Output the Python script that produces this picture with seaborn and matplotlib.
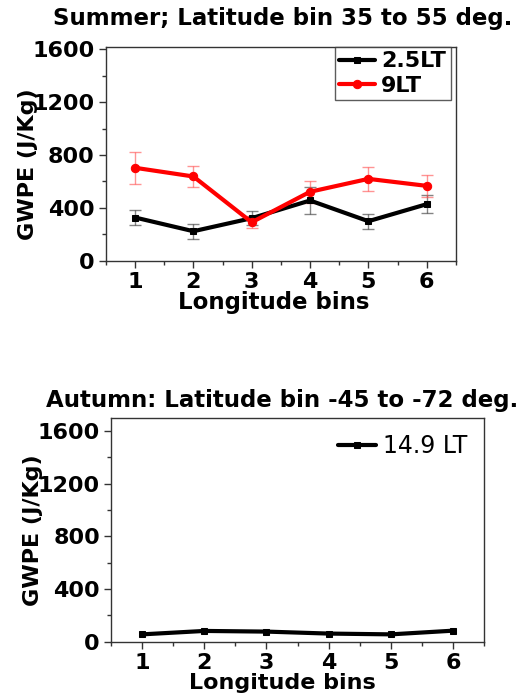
import numpy as np
import pandas as pd
import matplotlib
matplotlib.use("Agg")
import matplotlib.pyplot as plt
import seaborn as sns
from matplotlib.ticker import MultipleLocator, FixedLocator

# ---- data ----
lon_bins = [1, 2, 3, 4, 5, 6]
summer_25lt = [326, 222, 321, 455, 298, 427]
summer_25lt_err = [55, 58, 53, 105, 57, 68]
summer_9lt = [703, 637, 290, 521, 619, 566]
summer_9lt_err = [120, 76, 45, 85, 92, 84]
autumn_149lt = [55, 81, 76, 61, 55, 83]
y_ticks = [0, 400, 800, 1200, 1600]
x_ticks = [1, 2, 3, 4, 5, 6]
title_top = "Summer; Latitude bin 35 to 55 deg."
title_bottom = "Autumn: Latitude bin -45 to -72 deg."

sns.set_theme(style="ticks")
plt.rcParams['font.family'] = ['DejaVu Sans']
plt.rcParams['text.color'] = 'black'
plt.rcParams['axes.labelcolor'] = 'black'
plt.rcParams['xtick.color'] = 'black'
plt.rcParams['ytick.color'] = 'black'

fig = plt.figure(figsize=(5.27, 6.96), dpi=100)
ax1 = fig.add_axes([0.201, 0.6257, 0.664, 0.307])
ax2 = fig.add_axes([0.2106, 0.0772, 0.708, 0.3227])

df_s1 = pd.DataFrame({"bin": lon_bins, "val": summer_25lt, "err": summer_25lt_err})
df_s2 = pd.DataFrame({"bin": lon_bins, "val": summer_9lt, "err": summer_9lt_err})
df_a = pd.DataFrame({"bin": lon_bins, "val": autumn_149lt})

# error bars
ax1.errorbar(df_s1["bin"], df_s1["val"], yerr=df_s1["err"], fmt="none",
             ecolor=(0.2, 0.2, 0.2, 0.6), elinewidth=1, capsize=4, capthick=1, zorder=1)
ax1.errorbar(df_s2["bin"], df_s2["val"], yerr=df_s2["err"], fmt="none",
             ecolor=(1, 0.3, 0.3, 0.6), elinewidth=1, capsize=4, capthick=1, zorder=1)

sns.lineplot(data=df_s1, x="bin", y="val", color="black", linewidth=3,
             marker="s", markersize=5, markeredgecolor="black", label="2.5LT", ax=ax1, zorder=3)
sns.lineplot(data=df_s2, x="bin", y="val", color="red", linewidth=3,
             marker="o", markersize=6, markeredgecolor="red", label="9LT", ax=ax1, zorder=3)

sns.lineplot(data=df_a, x="bin", y="val", color="black", linewidth=3,
             marker="s", markersize=5, markeredgecolor="black", label="14.9 LT", ax=ax2, zorder=3)

for ax, ylim in ((ax1, (0, 1620)), (ax2, (-5, 1700))):
    ax.set_xlim(0.5, 6.5)
    ax.set_ylim(*ylim)
    ax.xaxis.set_major_locator(FixedLocator(x_ticks))
    ax.xaxis.set_minor_locator(MultipleLocator(0.5))
    ax.yaxis.set_major_locator(FixedLocator(y_ticks))
    ax.yaxis.set_minor_locator(MultipleLocator(200))
    ax.tick_params(which="major", direction="out", length=5, width=1, pad=3,
                   labelsize=16, top=False, right=False, color="#333333")
    ax.tick_params(which="minor", direction="out", length=3, width=1,
                   top=False, right=False, color="#333333")
    for lbl in ax.get_xticklabels() + ax.get_yticklabels():
        lbl.set_fontweight("bold")
    for sp in ax.spines.values():
        sp.set_visible(True)
        sp.set_linewidth(1)
        sp.set_color("#333333")
    ax.set_ylabel("GWPE (J/Kg)", fontsize=16, fontweight="bold")

ax1.set_xlabel("Longitude bins", fontsize=16.5, fontweight="bold")
ax2.set_xlabel("Longitude bins", fontsize=16, fontweight="bold")

ax1.yaxis.set_label_coords(-0.195, 0.45)
ax2.yaxis.set_label_coords(-0.183, 0.5)
ax1.xaxis.set_label_coords(0.48, -0.145)
ax2.xaxis.set_label_coords(0.46, -0.137)

ax1.set_title(title_top, fontsize=16.5, fontweight="bold", pad=16, x=0.504)
ax2.set_title(title_bottom, fontsize=16.5, fontweight="bold", pad=8, x=0.46)

leg1 = ax1.legend(loc="upper right", bbox_to_anchor=(0.985, 1.0), frameon=True, fancybox=False,
                  prop={"weight": "bold", "size": 16}, handlelength=1.6, handletextpad=0.3,
                  borderpad=0.2, labelspacing=0.2, borderaxespad=0.0)
leg1.get_frame().set_edgecolor("#333333")
leg1.get_frame().set_linewidth(1)

leg2 = ax2.legend(loc="upper right", frameon=False, prop={"size": 17},
                  handlelength=1.6, handletextpad=0.3, borderaxespad=0.3)

fig.savefig("out.png", dpi=100)
